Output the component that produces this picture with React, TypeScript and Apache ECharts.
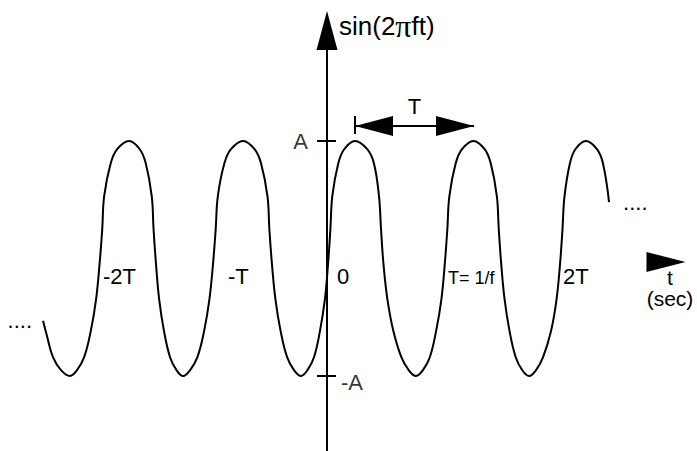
import React, { useEffect, useRef } from "react";
import * as echarts from "echarts";

// ---- data (t in units of T, v in units of A) ----
const waveT = [
  -2.513, -2.478, -2.425, -2.354, -2.274,
  -2.212, -2.149, -2.091, -2.044, -2.013, -1.989, -1.972, -1.914, -1.857, -1.752,
  -1.657, -1.604, -1.551, -1.535, -1.513, -1.485, -1.442, -1.389, -1.332, -1.274,
  -1.211, -1.147, -1.088, -1.041, -1.009, -0.985, -0.966, -0.908, -0.85, -0.743,
  -0.641, -0.584, -0.527, -0.51, -0.487, -0.456, -0.41, -0.353, -0.292, -0.23,
  -0.173, -0.115, -0.063, -0.019, 0.009, 0.03, 0.047, 0.1, 0.152, 0.248,
  0.356, 0.415, 0.46, 0.478, 0.5, 0.535, 0.588, 0.658, 0.723, 0.788,
  0.849, 0.91, 0.965, 1.012, 1.042, 1.065, 1.083, 1.139, 1.195, 1.296,
  1.395, 1.449, 1.503, 1.52, 1.542, 1.572, 1.616, 1.67, 1.728, 1.788,
  1.85, 1.912, 1.982, 2.031, 2.062, 2.084, 2.102, 2.15, 2.198, 2.292,
  2.389, 2.442, 2.496,
];
const waveV = [
  -0.53, -0.66, -0.84, -0.95, -1,
  -0.95, -0.84, -0.62, -0.35, -0.05, 0.25, 0.53, 0.81, 0.93, 1,
  0.93, 0.81, 0.53, 0.25, -0.05, -0.35, -0.62, -0.84, -0.95, -1,
  -0.95, -0.84, -0.62, -0.35, -0.05, 0.25, 0.53, 0.81, 0.93, 1,
  0.93, 0.81, 0.53, 0.25, -0.05, -0.35, -0.62, -0.84, -0.95, -1,
  -0.95, -0.84, -0.62, -0.35, -0.05, 0.25, 0.53, 0.81, 0.93, 1,
  0.93, 0.81, 0.53, 0.25, -0.05, -0.35, -0.62, -0.84, -0.95, -1,
  -0.95, -0.84, -0.62, -0.35, -0.05, 0.25, 0.53, 0.81, 0.93, 1,
  0.93, 0.81, 0.53, 0.25, -0.05, -0.35, -0.62, -0.84, -0.95, -1,
  -0.95, -0.84, -0.62, -0.35, -0.05, 0.25, 0.53, 0.81, 0.93, 1,
  0.93, 0.81, 0.48,
];
const tickValues = [-2, -1, 0, 1, 2];
const tickLabels = ["-2T", "-T", "0", "T= 1/f", "2T"];
const ampValues = [1, -1];
const ampLabels = ["A", "-A"];
const periodArrowT = [0.248, 1.301];
const periodArrowV = 1.128;
const periodBarV = [1.06, 1.213];
const periodLabel = "T";
const ellipsis = "....";
const xName = "t\n(sec)";

// ---- layout ----
const W = 697;
const H = 451;
const ORIGIN_X = 327;
const ORIGIN_Y = 258.5;
const PX_T = 113;
const PX_A = 117.5;
const X_MIN = -2.6;
const X_MAX = 3;
const GRID_TOP = 30.5;
const X_AXIS_Y = 262;
const FONT = "'Liberation Sans', Arial, Helvetica, sans-serif";

const gridLeft = ORIGIN_X + X_MIN * PX_T;
const gridRight = W - (ORIGIN_X + X_MAX * PX_T);
const yMax = (ORIGIN_Y - GRID_TOP) / PX_A;
const yMin = -(H - ORIGIN_Y) / PX_A;

const labelPadLeft = [2, 14, 10, 8, 10];
const xRich: Record<string, any> = {};
tickLabels.forEach((_, i) => {
  xRich["l" + i] = {
    fontSize: i === 3 ? 18 : 22,
    fontFamily: FONT,
    color: "#000",
    padding: [i === 3 ? 4 : 0, 0, 0, labelPadLeft[i]],
  };
});

const idxOf = (arr: number[], v: number) => arr.findIndex((a) => Math.abs(a - v) < 1e-9);

const lineStyle = { color: "#000", width: 2 };
const textBase = { fontSize: 22, color: "#000", fontFamily: FONT };

function buildOption(): any {
  const last = waveT.length - 1;
  const items = waveT.map((t, i) => {
    const it: any = { value: [t, waveV[i]] };
    if (i === 0) {
      it.label = { ...textBase, show: true, position: "left", distance: 11, formatter: ellipsis };
    }
    if (i === last) {
      it.label = { ...textBase, show: true, position: "right", distance: 14, formatter: ellipsis };
    }
    return it;
  });

  const ampItems = ampValues.map((v, i) => ({
    value: [0, v],
    label:
      i === 0
        ? { ...textBase, show: true, position: "left", distance: 19, formatter: ampLabels[i] }
        : { ...textBase, show: true, position: "right", distance: 14, offset: [0, 6], formatter: ampLabels[i] },
  }));

  return {
    animation: false,
    backgroundColor: "#fff",
    textStyle: { fontFamily: FONT, color: "#000" },
    grid: {
      left: gridLeft,
      right: gridRight,
      top: GRID_TOP,
      bottom: 0,
      containLabel: false,
      outerBoundsMode: "none",
    },
    xAxis: {
      type: "value",
      min: X_MIN,
      max: X_MAX,
      position: "bottom",
      offset: X_AXIS_Y - H,
      axisLine: {
        show: true,
        onZero: false,
        symbol: ["none", "triangle"],
        symbolSize: [20, 39],
        lineStyle: { color: "#000", opacity: 0 },
      },
      axisTick: { show: false },
      splitLine: { show: false },
      axisLabel: {
        show: true,
        customValues: tickValues,
        align: "left",
        margin: 3,
        formatter: (v: number) => {
          const i = idxOf(tickValues, v);
          return i < 0 ? "" : `{l${i}|${tickLabels[i]}}`;
        },
        rich: xRich,
      },
      name: xName,
      nameLocation: "end",
      nameGap: 4,
      nameMoveOverlap: false,
      nameTextStyle: {
        fontSize: 21,
        lineHeight: 21,
        align: "center",
        verticalAlign: "top",
        padding: [5, 0, 0, 0],
        color: "#000",
        fontFamily: FONT,
      },
    },
    yAxis: [
      {
        type: "value",
        min: yMin,
        max: yMax,
        position: "left",
        axisLine: {
          show: true,
          onZero: true,
          onZeroAxisIndex: 0,
          symbol: ["none", "triangle"],
          symbolSize: [21, 39],
          lineStyle,
        },
        axisTick: { show: true, customValues: ampValues, length: 10, lineStyle },
        axisLabel: { show: false },
        splitLine: { show: false },
        name: "{a|sin(2}{p|π}{a|ft)}",
        nameLocation: "end",
        nameGap: 5,
        nameMoveOverlap: false,
        nameTextStyle: {
          align: "left",
          verticalAlign: "middle",
          padding: [0, 0, 0, 12],
          rich: {
            a: { fontSize: 26, fontFamily: FONT, color: "#000" },
            p: { fontSize: 32, fontFamily: "'Liberation Serif', serif", color: "#000" },
          },
        },
      },
      {
        type: "value",
        min: yMin,
        max: yMax,
        position: "right",
        axisLine: { show: false, onZero: true, onZeroAxisIndex: 0 },
        axisTick: { show: true, customValues: ampValues, length: 9, lineStyle },
        axisLabel: { show: false },
        splitLine: { show: false },
      },
    ],
    series: [
      {
        type: "line",
        xAxisIndex: 0,
        yAxisIndex: 0,
        data: items,
        smooth: 0.4,
        symbol: "circle",
        symbolSize: 0,
        showSymbol: true,
        clip: false,
        silent: true,
        lineStyle: { color: "#000", width: 2 },
        itemStyle: { color: "#000" },
        label: { show: false },
        markLine: {
          silent: true,
          animation: false,
          symbol: ["none", "none"],
          lineStyle: { color: "#000", width: 2, type: "solid" },
          label: { show: false },
          emphasis: { disabled: true },
          data: [
            [
              {
                coord: [periodArrowT[0], periodArrowV],
                symbol: "triangle",
                symbolSize: [20, 38],
                symbolOffset: [0, 19],
                label: {
                  ...textBase,
                  show: true,
                  position: "middle",
                  formatter: periodLabel,
                  distance: 8,
                },
              },
              {
                coord: [periodArrowT[1], periodArrowV],
                symbol: "triangle",
                symbolSize: [20, 38],
                symbolOffset: [0, 19],
              },
            ],
            [
              { coord: [periodArrowT[0], periodBarV[0]] },
              { coord: [periodArrowT[0], periodBarV[1]] },
            ],
          ],
        },
      },
      {
        type: "scatter",
        xAxisIndex: 0,
        yAxisIndex: 0,
        data: ampItems,
        symbolSize: 0,
        silent: true,
        itemStyle: { color: "#000" },
        label: { ...textBase },
      },
    ],
  };
}

export default function App() {
  const ref = useRef<HTMLDivElement>(null);
  useEffect(() => {
    if (!ref.current) return;
    const chart = echarts.init(ref.current, null, { renderer: "svg" });
    chart.setOption(buildOption());
    return () => chart.dispose();
  }, []);
  return (
    <div
      ref={ref}
      style={{ position: "absolute", left: 0, top: 0, width: W, height: H, background: "#fff" }}
    />
  );
}
